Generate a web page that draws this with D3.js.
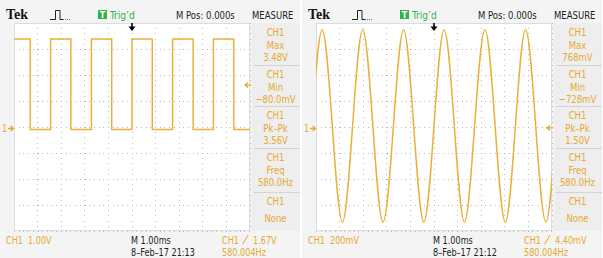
<!DOCTYPE html>
<html><head><meta charset="utf-8">
<script src="https://cdn.jsdelivr.net/npm/d3@7"></script>
<style>
html,body{margin:0;padding:0;background:#fff;}
svg{display:block;}
</style></head>
<body>
<svg id="c" width="603" height="258"></svg>
<script>
// ---- Data ----
// Left screen: square wave, CH1 1.00 V/div, 1.00 ms/div (time in ms, level in V)
const squareTimes = [-5.17, -4.31, -3.45, -2.59, -1.72, -0.86, 0, 0.86, 1.72, 2.59, 3.45, 4.31, 5.17];
const squareVolts = [3.44, -0.04, 3.44, -0.04, 3.44, -0.04, 3.44, -0.04, 3.44, -0.04, 3.44, -0.04, 3.44];
// Right screen: sine wave, CH1 200 mV/div, 1.00 ms/div (time in ms, level in mV)
const sineTimes = [-5.17, -4.74, -4.31, -3.88, -3.45, -3.02, -2.59, -2.16, -1.72, -1.29, -0.86, -0.43, 0,
                   0.43, 0.86, 1.29, 1.72, 2.16, 2.59, 3.02, 3.45, 3.88, 4.31, 4.74, 5.17];
const sineMilliVolts = [20, 760, 20, -720, 20, 760, 20, -720, 20, 760, 20, -720, 20,
                        760, 20, -720, 20, 760, 20, -720, 20, 760, 20, -720, 20];
// Measurement panel
const measureLabels = ["Max", "Min", "Pk\u2013Pk", "Freq", "None"];
const leftMeasureValues = ["3.48V", "\u221280.0mV", "3.56V", "580.0Hz", ""];
const rightMeasureValues = ["768mV", "\u2212728mV", "1.50V", "580.0Hz", ""];
// Footer texts
const scaleValues = ["1.00V", "200mV"];
const trigValues = ["1.67V", "4.40mV"];
const dateLabels = ["8\u2013Feb\u201317 21:13", "8\u2013Feb\u201317 21:12"];
const trigLevels = [1.67, 4.40];          // V, mV
const voltsPerDiv = [1.00, 200];           // V, mV
const timeTicks = [-5, -4, -3, -2, -1, 0, 1, 2, 3, 4, 5];   // ms, one per division
const divTicks = [-4, -3, -2, -1, 0, 1, 2, 3, 4];           // vertical divisions

// ---- Drawing ----
const svg = d3.select("#c");
const ORANGE = "#e6a92e";
const TRACE = "#e9b13a";
const NARROW = "'Liberation Sans Narrow','DejaVu Sans Condensed','Liberation Sans',sans-serif";
const offsets = [0, 302];

function txt(g, x, y, s, size, fill, sx, anchor) {
  return g.append("text")
    .attr("transform", `translate(${x},${y}) scale(${sx},1)`)
    .attr("text-anchor", anchor || "start")
    .attr("font-family", NARROW).attr("font-size", size).attr("fill", fill).text(s);
}

function panel(i) {
  const g = svg.append("g").attr("transform", `translate(${offsets[i]},0)`);
  g.append("rect").attr("x", 0).attr("y", 0).attr("width", 300).attr("height", 258).attr("fill", "#f4f4f4");

  const gx0 = 14, gx1 = 250, gy0 = 23, gy1 = 231;
  const x = d3.scaleLinear().domain([-5, 5]).range([gx0, gx1]);
  const groundY = 128.5;
  const divPx = (gy1 - gy0) / 8;
  const vpd = voltsPerDiv[i];
  const y = d3.scaleLinear()
    .domain([-(gy1 - groundY) / divPx * vpd, (groundY - gy0) / divPx * vpd])
    .range([gy1, gy0]);
  const yd = d3.scaleLinear().domain([-4, 4]).range([gy1, gy0]);

  g.append("rect").attr("x", gx0).attr("y", gy0).attr("width", gx1 - gx0).attr("height", gy1 - gy0).attr("fill", "#ffffff");
  g.selectAll(".vl").data(timeTicks).join("line")
    .attr("x1", d => x(d)).attr("x2", d => x(d)).attr("y1", gy0).attr("y2", gy1)
    .attr("stroke", "#b8b8b8").attr("stroke-width", 1).attr("stroke-dasharray", "1,4.2")
    .attr("shape-rendering", "crispEdges");
  g.selectAll(".hl").data(divTicks).join("line")
    .attr("y1", d => yd(d)).attr("y2", d => yd(d)).attr("x1", gx0).attr("x2", gx1)
    .attr("stroke", "#b8b8b8").attr("stroke-width", 1).attr("stroke-dasharray", "1,3.7")
    .attr("shape-rendering", "crispEdges");
  g.append("rect").attr("x", gx0 + 0.5).attr("y", gy0 + 0.5).attr("width", gx1 - gx0 - 1).attr("height", gy1 - gy0 - 1)
    .attr("fill", "none").attr("stroke", "#dcdcdc");

  const clipId = "clip" + i;
  g.append("clipPath").attr("id", clipId).append("rect")
    .attr("x", gx0).attr("y", gy0).attr("width", gx1 - gx0).attr("height", gy1 - gy0);
  let pts, curve;
  if (i === 0) { pts = squareTimes.map((t, k) => [t, squareVolts[k]]); curve = d3.curveStepAfter; }
  else { pts = sineTimes.map((t, k) => [t, sineMilliVolts[k]]); curve = d3.curveNatural; }
  const line = d3.line().x(d => x(d[0])).y(d => y(d[1])).curve(curve);
  g.append("path").attr("d", line(pts)).attr("clip-path", `url(#${clipId})`)
    .attr("fill", "none").attr("stroke", TRACE).attr("stroke-width", 1.5).attr("stroke-linejoin", "round");

  // header
  g.append("text").attr("x", 6).attr("y", 19).text("Tek")
    .attr("font-family", "'Liberation Serif','DejaVu Serif',serif").attr("font-weight", "bold")
    .attr("font-size", 14).attr("fill", "#111");
  g.append("path").attr("d", "M50,19.5H55.5V10.5H60V19.5H63").attr("fill", "none").attr("stroke", "#222").attr("stroke-width", 1);
  g.append("path").attr("d", "M63,19.5H71").attr("fill", "none").attr("stroke", "#777").attr("stroke-width", 1).attr("stroke-dasharray", "1,1");
  g.append("rect").attr("x", 98).attr("y", 10).attr("width", 9).attr("height", 9).attr("fill", "#2eb34a");
  g.append("text").attr("x", 102.5).attr("y", 18).text("T").attr("text-anchor", "middle")
    .attr("font-family", NARROW).attr("font-size", 9).attr("font-weight", "bold").attr("fill", "#fff");
  txt(g, 110, 19, "Trig\u2019d", 11, "#2eb34a", 0.92);
  txt(g, 176, 19, "M Pos: 0.000s", 11, "#222", 0.86);
  txt(g, 252, 19, "MEASURE", 11, "#222", 0.86);

  // trigger position arrow
  const tx = x(0);
  g.append("path").attr("d", `M${tx},23V27`).attr("stroke", "#000").attr("stroke-width", 1.6);
  g.append("path").attr("d", `M${tx - 3.5},26.5L${tx + 3.5},26.5L${tx},31Z`).attr("fill", "#000");

  // ground marker
  txt(g, 2, groundY + 3.5, "1", 10, ORANGE, 0.9);
  g.append("path").attr("d", `M8,${groundY}H13M10.5,${groundY - 2.5}L13.5,${groundY}L10.5,${groundY + 2.5}`)
    .attr("fill", "none").attr("stroke", ORANGE).attr("stroke-width", 1.3);
  // trigger level marker
  const ty = y(trigLevels[i]);
  g.append("path").attr("d", `M${gx1 - 5},${ty}H${gx1 + 1}M${gx1 - 2},${ty - 2.5}L${gx1 - 5},${ty}L${gx1 - 2},${ty + 2.5}`)
    .attr("fill", "none").attr("stroke", ORANGE).attr("stroke-width", 1.3);

  // measure column
  const mx0 = 252, mx1 = 300;
  g.append("rect").attr("x", mx0).attr("y", 23).attr("width", mx1 - mx0).attr("height", 208).attr("fill", "#eeeeee");
  const boxTops = [23, 65, 106, 148, 192];
  const seps = [65, 106, 148, 192];
  g.selectAll(".sep").data(seps).join("line")
    .attr("x1", mx0 + 2).attr("x2", mx1).attr("y1", d => d).attr("y2", d => d)
    .attr("stroke", "#d4d4d4").attr("stroke-width", 1).attr("shape-rendering", "crispEdges");
  const vals = i === 0 ? leftMeasureValues : rightMeasureValues;
  const cx = 275.5;
  measureLabels.forEach((lab, k) => {
    const top = boxTops[k];
    const lines = vals[k] ? ["CH1", lab, vals[k]] : ["CH1", lab];
    const gap = vals[k] ? 12.6 : 16.5;
    lines.forEach((s, j) => {
      txt(g, cx, top + 13 + j * gap, s, 10.5, ORANGE, 0.9, "middle");
    });
  });

  // footer
  txt(g, 6, 244, "CH1", 10.5, ORANGE, 0.86);
  txt(g, 28, 244, scaleValues[i], 10.5, ORANGE, 0.86);
  txt(g, 131, 244, "M 1.00ms", 10.5, "#222", 0.86);
  txt(g, 131, 256, dateLabels[i], 10.5, "#222", 0.86);
  txt(g, 222, 244, "CH1", 10.5, ORANGE, 0.86);
  g.append("path").attr("d", "M242.5,244.5L248,235").attr("stroke", ORANGE).attr("stroke-width", 1).attr("fill", "none");
  txt(g, 253, 244, trigValues[i], 10.5, ORANGE, 0.86);
  txt(g, 222, 256, "580.004Hz", 10.5, ORANGE, 0.86);
}
panel(0);
panel(1);
</script>
</body></html>
